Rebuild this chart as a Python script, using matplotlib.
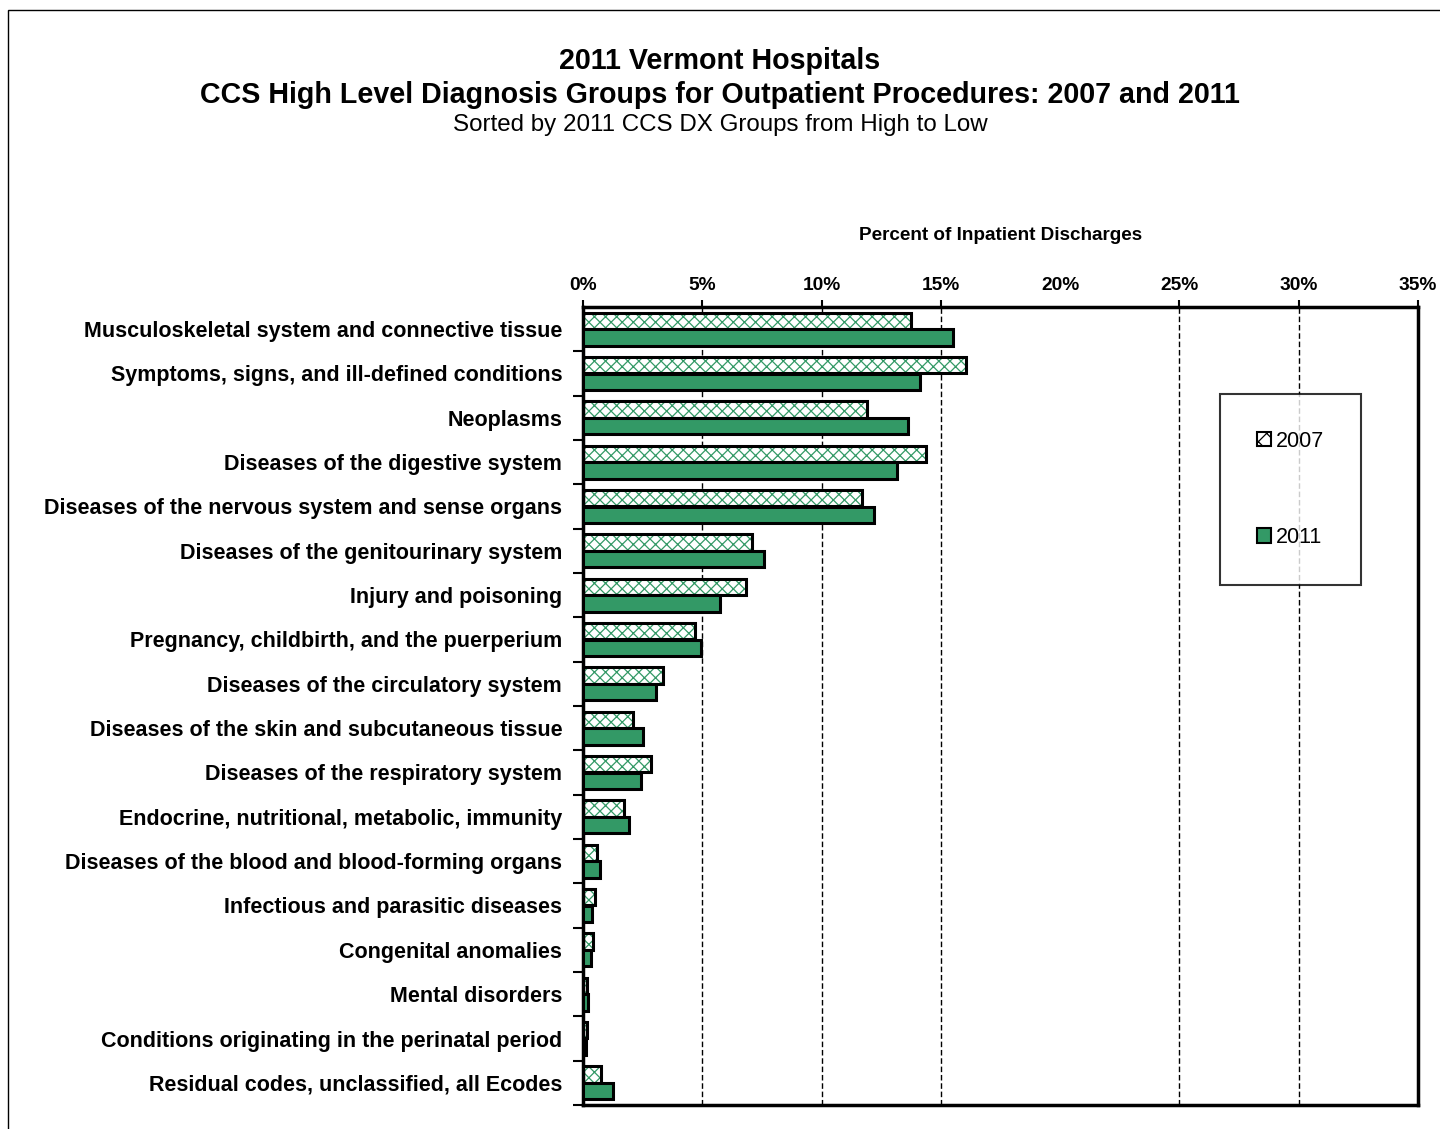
import matplotlib
matplotlib.use("Agg")
import matplotlib.pyplot as plt
import numpy as np
from matplotlib.patches import Rectangle, Patch

plt.rcParams['font.family'] = ['Liberation Sans', 'DejaVu Sans']
plt.rcParams['hatch.linewidth'] = 0.9

categories = [
    "Musculoskeletal system and connective tissue",
    "Symptoms, signs, and ill-defined conditions",
    "Neoplasms",
    "Diseases of the digestive system",
    "Diseases of the nervous system and sense organs",
    "Diseases of the genitourinary system",
    "Injury and poisoning",
    "Pregnancy, childbirth, and the puerperium",
    "Diseases of the circulatory system",
    "Diseases of the skin and subcutaneous tissue",
    "Diseases of the respiratory system",
    "Endocrine, nutritional, metabolic, immunity",
    "Diseases of the blood and blood-forming organs",
    "Infectious and parasitic diseases",
    "Congenital anomalies",
    "Mental disorders",
    "Conditions originating in the perinatal period",
    "Residual codes, unclassified, all Ecodes",
]
values_2007 = [13.74, 16.05, 11.9, 14.38, 11.7, 7.08, 6.85, 4.69, 3.36, 2.11,
               2.86, 1.73, 0.6, 0.52, 0.43, 0.18, 0.18, 0.77]
values_2011 = [15.51, 14.13, 13.63, 13.17, 12.2, 7.58, 5.75, 4.93, 3.04, 2.53,
               2.44, 1.94, 0.72, 0.39, 0.35, 0.22, 0.14, 1.27]
xticks = [0, 5, 10, 15, 20, 25, 30, 35]
xtick_labels = ["0%", "5%", "10%", "15%", "20%", "25%", "30%", "35%"]
series_labels = ["2007", "2011"]

green = "#339966"

fig = plt.figure(figsize=(14.4, 11.29), dpi=100)
ax = fig.add_axes([583/1440, 1 - 1105/1129, (1418-583)/1440, (1105-307)/1129])

y = np.arange(len(categories))
h = 0.37
off = 0.19

# gridlines
for g in [5, 10, 15, 25, 30]:
    ax.axvline(g, color="black", lw=1.0, ls=(0, (4, 2)), zorder=1)

# 2007 hatched bars
ax.barh(y - off, values_2007, height=h, color="white", edgecolor=green,
        hatch="xxx", linewidth=0, zorder=2)
ax.barh(y - off, values_2007, height=h, fill=False, edgecolor="black",
        linewidth=2.2, zorder=3)
# 2011 solid bars
ax.barh(y + off, values_2011, height=h, color=green, edgecolor="black",
        linewidth=2.2, zorder=3)

ax.set_xlim(0, 35)
ax.set_ylim(len(categories) - 0.5, -0.5)

ax.xaxis.tick_top()
ax.set_xticks(xticks)
ax.set_xticklabels(xtick_labels, fontsize=13.8, fontweight="bold")
ax.tick_params(axis="x", direction="out", length=5, width=1.5, pad=4)
ax.get_xaxis().get_major_ticks()[4].tick2line.set_visible(False)
ax.xaxis.set_label_position("top")
ax.set_xlabel("Percent of Inpatient Discharges", fontsize=13.6,
              fontweight="bold", labelpad=27)

ax.set_yticks(y)
ax.set_yticklabels(categories, fontsize=15.5, fontweight="bold")
ax.tick_params(axis="y", which="major", length=0, pad=15)
ax.set_yticks(np.arange(len(categories)) + 0.5, minor=True)
ax.tick_params(axis="y", which="minor", length=7, width=1.5, direction="out")

for s in ax.spines.values():
    s.set_linewidth(2.5)
    s.set_color("black")

handles = [Patch(facecolor="white", edgecolor="black", hatch="xx", linewidth=1.5),
           Patch(facecolor=green, edgecolor="black", linewidth=1.5)]
leg = ax.legend(handles, series_labels, loc="upper left",
                bbox_to_anchor=((1220-583)/835, (1105-394)/798),
                borderaxespad=0, fontsize=15.5, frameon=True, fancybox=False,
                edgecolor="black", borderpad=1.7, labelspacing=3.5,
                handlelength=0.65, handleheight=0.65, handletextpad=0.25)
leg.get_frame().set_linewidth(1.5)

fig.text(0.5, 1 - 61/1129, "2011 Vermont Hospitals", ha="center", va="center",
         fontsize=20.6, fontweight="bold")
fig.text(0.5, 1 - 95/1129,
         "CCS High Level Diagnosis Groups for Outpatient Procedures: 2007 and 2011",
         ha="center", va="center", fontsize=20.6, fontweight="bold")
fig.text(0.5, 1 - 125/1129, "Sorted by 2011 CCS DX Groups from High to Low",
         ha="center", va="center", fontsize=17.4)

fig.patches.append(Rectangle((8/1440, -0.05), 1.1, 1 - 10/1129 + 0.05,
                             transform=fig.transFigure, fill=False,
                             edgecolor="black", linewidth=1.0, clip_on=False))

fig.savefig("out.png", dpi=100)
